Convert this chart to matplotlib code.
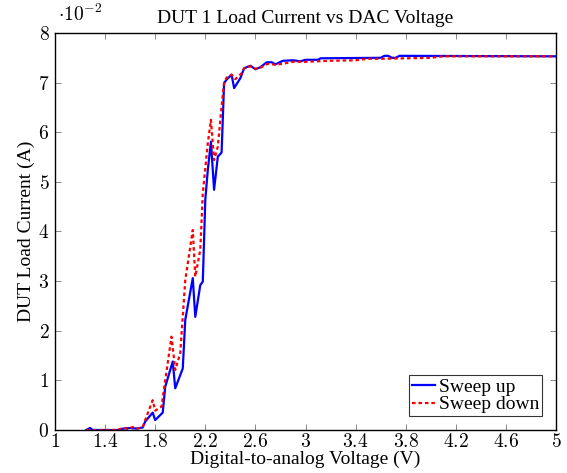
import numpy as np
import matplotlib
matplotlib.use("Agg")
import matplotlib.pyplot as plt

# sweep up (blue)
v_up = [1.25, 1.28, 1.30, 1.50, 1.55, 1.60, 1.65, 1.70, 1.72, 1.78, 1.80, 1.86, 1.88,
        1.94, 1.96, 2.02, 2.04, 2.10, 2.12, 2.16, 2.18, 2.20, 2.22, 2.245, 2.27, 2.30,
        2.33, 2.35, 2.37, 2.41, 2.43, 2.48, 2.51, 2.56, 2.60, 2.64, 2.69, 2.73, 2.76,
        2.82, 2.90, 2.96, 3.00, 3.10, 3.12, 3.60, 3.63, 3.66, 3.69, 3.72, 3.75, 5.00]
i_up = [0.0, 0.04, 0.0, 0.0, 0.03, 0.04, 0.03, 0.05, 0.17, 0.35, 0.20, 0.35, 0.87,
        1.38, 0.84, 1.24, 2.22, 3.06, 2.28, 2.92, 2.99, 4.64, 5.24, 5.81, 4.84, 5.51,
        5.59, 6.99, 7.06, 7.16, 6.89, 7.09, 7.29, 7.34, 7.27, 7.31, 7.41, 7.41, 7.37,
        7.44, 7.45, 7.43, 7.46, 7.46, 7.49, 7.50, 7.54, 7.54, 7.50, 7.50, 7.54, 7.53]

# sweep down (red)
v_dn = [1.25, 1.50, 1.55, 1.58, 1.62, 1.66, 1.70, 1.72, 1.78, 1.80, 1.85, 1.88, 1.93,
        1.96, 2.00, 2.04, 2.10, 2.12, 2.16, 2.18, 2.22, 2.245, 2.27, 2.30, 2.33, 2.35,
        2.37, 2.41, 2.44, 2.49, 2.51, 2.56, 2.60, 2.64, 2.70, 2.76, 2.82, 2.90, 3.00,
        3.20, 3.40, 3.50, 3.60, 3.80, 4.00, 4.10, 5.00]
i_dn = [0.0, 0.0, 0.05, 0.02, 0.06, 0.03, 0.06, 0.20, 0.60, 0.39, 0.47, 1.00, 1.88,
        1.21, 1.55, 3.02, 4.03, 3.09, 3.63, 4.77, 5.78, 6.25, 5.44, 5.71, 6.52, 7.00,
        7.10, 7.16, 7.07, 7.19, 7.29, 7.33, 7.28, 7.30, 7.38, 7.36, 7.38, 7.42, 7.42,
        7.44, 7.45, 7.48, 7.48, 7.49, 7.50, 7.53, 7.53]

xticks = [1, 1.4, 1.8, 2.2, 2.6, 3, 3.4, 3.8, 4.2, 4.6, 5]
yticks = [0, 1, 2, 3, 4, 5, 6, 7, 8]

plt.rcParams['font.family'] = ['Liberation Serif', 'DejaVu Serif']
plt.rcParams['mathtext.fontset'] = 'cm'

fig = plt.figure(figsize=(5.67, 4.73), dpi=100)
ax = fig.add_axes([55/567, 1-430/473, (556-55)/567, (430-33)/473])

ax.plot(v_up, i_up, color='blue', lw=1.6, label='Sweep up')
ax.plot(v_dn, i_dn, color='red', lw=1.6, ls=(0, (1.6, 1.3)), label='Sweep down')

ax.set_xlim(1, 5)
ax.set_ylim(0, 8)
ax.set_xticks(xticks)
ax.set_xticklabels(['$%g$' % t for t in xticks])
ax.set_yticks(yticks)
ax.set_yticklabels(['$%g$' % t for t in yticks])
ax.tick_params(direction='in', top=True, right=True, length=4, width=0.6,
               color='#777777', labelsize=14)
ax.tick_params(axis='x', pad=2)
ax.tick_params(axis='y', pad=4)
for s in ax.spines.values():
    s.set_linewidth(1.0)

ax.text(0.005, 1.02, r'$\cdot 10^{-2}$', transform=ax.transAxes, fontsize=14,
        ha='left', va='bottom')
ax.set_title('DUT 1 Load Current vs DAC Voltage', fontsize=14, pad=7)
ax.set_xlabel('Digital-to-analog Voltage (V)', fontsize=14, labelpad=0)
ax.set_ylabel('DUT Load Current (A)', fontsize=14, labelpad=2)

leg = ax.legend(loc='lower right', fontsize=14, frameon=True, fancybox=False,
                edgecolor='black', handlelength=1.2, handletextpad=0.2,
                borderpad=0.15, labelspacing=0.0, borderaxespad=0.7)
leg.get_frame().set_linewidth(0.8)

fig.savefig('out.png', dpi=100)
